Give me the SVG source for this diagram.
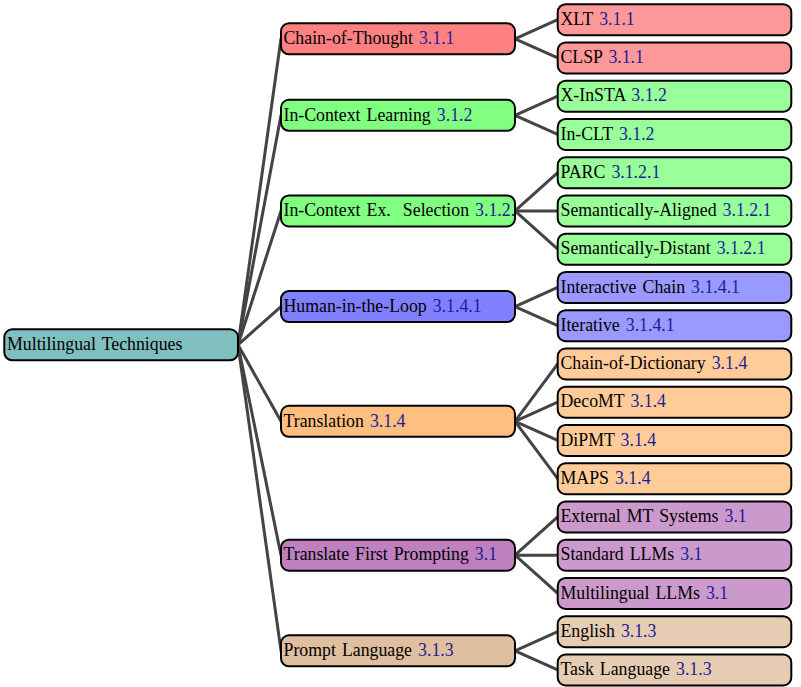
<svg xmlns="http://www.w3.org/2000/svg" width="801" height="687" viewBox="0 0 801 687">
<style>
rect.n{stroke:#000;stroke-width:2;}
text{font-family:"Liberation Serif","Times New Roman",serif;font-size:17.8px;fill:#000;white-space:pre;word-spacing:1.6px;}
tspan.s{fill:#1C1C98;}
.root{fill:#80BFBF;}
.r1{fill:#FF8080;}.r2{fill:#FF9999;}
.g1{fill:#80FF80;}.g2{fill:#99FF99;}
.b1{fill:#8080FF;}.b2{fill:#9999FF;}
.o1{fill:#FFBF80;}.o2{fill:#FFCC99;}
.v1{fill:#BF80BF;}.v2{fill:#CC99CC;}
.w1{fill:#DFBF9F;}.w2{fill:#E6CCB3;}
#edges line{stroke:#444;stroke-width:3;stroke-linecap:round;}
</style>
<defs>
<clipPath id="clipICES"><rect x="281" y="195" width="233" height="32"/></clipPath>
</defs>
<g id="edges">
<line x1="238" y1="344.8" x2="281" y2="38.8"/>
<line x1="238" y1="344.8" x2="281" y2="115.3"/>
<line x1="238" y1="344.8" x2="281" y2="210.95"/>
<line x1="238" y1="344.8" x2="281" y2="306.6"/>
<line x1="238" y1="344.8" x2="281" y2="421.3"/>
<line x1="238" y1="344.8" x2="281" y2="555.2"/>
<line x1="238" y1="344.8" x2="281" y2="650.8"/>
<line x1="515" y1="38.8" x2="557.7" y2="19.7"/>
<line x1="515" y1="38.8" x2="557.7" y2="57.95"/>
<line x1="515" y1="115.3" x2="557.7" y2="96.2"/>
<line x1="515" y1="115.3" x2="557.7" y2="134.45"/>
<line x1="515" y1="210.95" x2="557.7" y2="172.7"/>
<line x1="515" y1="210.95" x2="557.7" y2="210.95"/>
<line x1="515" y1="210.95" x2="557.7" y2="249.2"/>
<line x1="515" y1="306.6" x2="557.7" y2="287.45"/>
<line x1="515" y1="306.6" x2="557.7" y2="325.7"/>
<line x1="515" y1="421.3" x2="557.7" y2="363.95"/>
<line x1="515" y1="421.3" x2="557.7" y2="402.2"/>
<line x1="515" y1="421.3" x2="557.7" y2="440.45"/>
<line x1="515" y1="421.3" x2="557.7" y2="478.7"/>
<line x1="515" y1="555.2" x2="557.7" y2="516.95"/>
<line x1="515" y1="555.2" x2="557.7" y2="555.2"/>
<line x1="515" y1="555.2" x2="557.7" y2="593.45"/>
<line x1="515" y1="650.8" x2="557.7" y2="631.7"/>
<line x1="515" y1="650.8" x2="557.7" y2="669.95"/>
</g>
<g id="root"><rect class="n root" x="4.3" y="329.3" width="233.7" height="31" rx="8"/><text x="7" y="350">Multilingual Techniques</text></g>

<g id="cot"><rect class="n r1" x="281" y="23.3" width="234" height="31" rx="8"/><text x="283.5" y="44">Chain-of-Thought <tspan class="s">3.1.1</tspan></text></g>
<g id="icl"><rect class="n g1" x="281" y="99.8" width="234" height="31" rx="8"/><text x="283.5" y="120.5">In-Context Learning <tspan class="s">3.1.2</tspan></text></g>
<g id="ices"><rect class="n g1" x="281" y="195.45" width="234" height="31" rx="8"/><text x="283.5" y="216" clip-path="url(#clipICES)">In-Context Ex.  Selection <tspan class="s">3.1.2.1</tspan></text></g>
<g id="hitl"><rect class="n b1" x="281" y="291.1" width="234" height="31" rx="8"/><text x="283.5" y="311.8">Human-in-the-Loop <tspan class="s">3.1.4.1</tspan></text></g>
<g id="trans"><rect class="n o1" x="281" y="405.8" width="234" height="31" rx="8"/><text x="283.5" y="426.5">Translation <tspan class="s">3.1.4</tspan></text></g>
<g id="tfp"><rect class="n v1" x="281" y="539.7" width="234" height="31" rx="8"/><text x="283.5" y="560.4">Translate First Prompting <tspan class="s">3.1</tspan></text></g>
<g id="pl"><rect class="n w1" x="281" y="635.3" width="234" height="31" rx="8"/><text x="283.5" y="656">Prompt Language <tspan class="s">3.1.3</tspan></text></g>

<g id="xlt"><rect class="n r2" x="557.7" y="4.2" width="233.6" height="31" rx="8"/><text x="560.5" y="24.9">XLT <tspan class="s">3.1.1</tspan></text></g>
<g id="clsp"><rect class="n r2" x="557.7" y="42.45" width="233.6" height="31" rx="8"/><text x="560.5" y="63.15">CLSP <tspan class="s">3.1.1</tspan></text></g>
<g id="xinsta"><rect class="n g2" x="557.7" y="80.7" width="233.6" height="31" rx="8"/><text x="560.5" y="101.4">X-InSTA <tspan class="s">3.1.2</tspan></text></g>
<g id="inclt"><rect class="n g2" x="557.7" y="118.95" width="233.6" height="31" rx="8"/><text x="560.5" y="139.65">In-CLT <tspan class="s">3.1.2</tspan></text></g>
<g id="parc"><rect class="n g2" x="557.7" y="157.2" width="233.6" height="31" rx="8"/><text x="560.5" y="177.9">PARC <tspan class="s">3.1.2.1</tspan></text></g>
<g id="semal"><rect class="n g2" x="557.7" y="195.45" width="233.6" height="31" rx="8"/><text x="560.5" y="216.15">Semantically-Aligned <tspan class="s">3.1.2.1</tspan></text></g>
<g id="semdi"><rect class="n g2" x="557.7" y="233.7" width="233.6" height="31" rx="8"/><text x="560.5" y="254.4">Semantically-Distant <tspan class="s">3.1.2.1</tspan></text></g>
<g id="ichain"><rect class="n b2" x="557.7" y="271.95" width="233.6" height="31" rx="8"/><text x="560.5" y="292.65">Interactive Chain <tspan class="s">3.1.4.1</tspan></text></g>
<g id="iter"><rect class="n b2" x="557.7" y="310.2" width="233.6" height="31" rx="8"/><text x="560.5" y="330.9">Iterative <tspan class="s">3.1.4.1</tspan></text></g>
<g id="cod"><rect class="n o2" x="557.7" y="348.45" width="233.6" height="31" rx="8"/><text x="560.5" y="369.15">Chain-of-Dictionary <tspan class="s">3.1.4</tspan></text></g>
<g id="decomt"><rect class="n o2" x="557.7" y="386.7" width="233.6" height="31" rx="8"/><text x="560.5" y="407.4">DecoMT <tspan class="s">3.1.4</tspan></text></g>
<g id="dipmt"><rect class="n o2" x="557.7" y="424.95" width="233.6" height="31" rx="8"/><text x="560.5" y="445.65">DiPMT <tspan class="s">3.1.4</tspan></text></g>
<g id="maps"><rect class="n o2" x="557.7" y="463.2" width="233.6" height="31" rx="8"/><text x="560.5" y="483.9">MAPS <tspan class="s">3.1.4</tspan></text></g>
<g id="extmt"><rect class="n v2" x="557.7" y="501.45" width="233.6" height="31" rx="8"/><text x="560.5" y="522.15">External MT Systems <tspan class="s">3.1</tspan></text></g>
<g id="stdllm"><rect class="n v2" x="557.7" y="539.7" width="233.6" height="31" rx="8"/><text x="560.5" y="560.4">Standard LLMs <tspan class="s">3.1</tspan></text></g>
<g id="mulllm"><rect class="n v2" x="557.7" y="577.95" width="233.6" height="31" rx="8"/><text x="560.5" y="598.65">Multilingual LLMs <tspan class="s">3.1</tspan></text></g>
<g id="english"><rect class="n w2" x="557.7" y="616.2" width="233.6" height="31" rx="8"/><text x="560.5" y="636.9">English <tspan class="s">3.1.3</tspan></text></g>
<g id="tasklang"><rect class="n w2" x="557.7" y="654.45" width="233.6" height="31" rx="8"/><text x="560.5" y="675.15">Task Language <tspan class="s">3.1.3</tspan></text></g>
</svg>
